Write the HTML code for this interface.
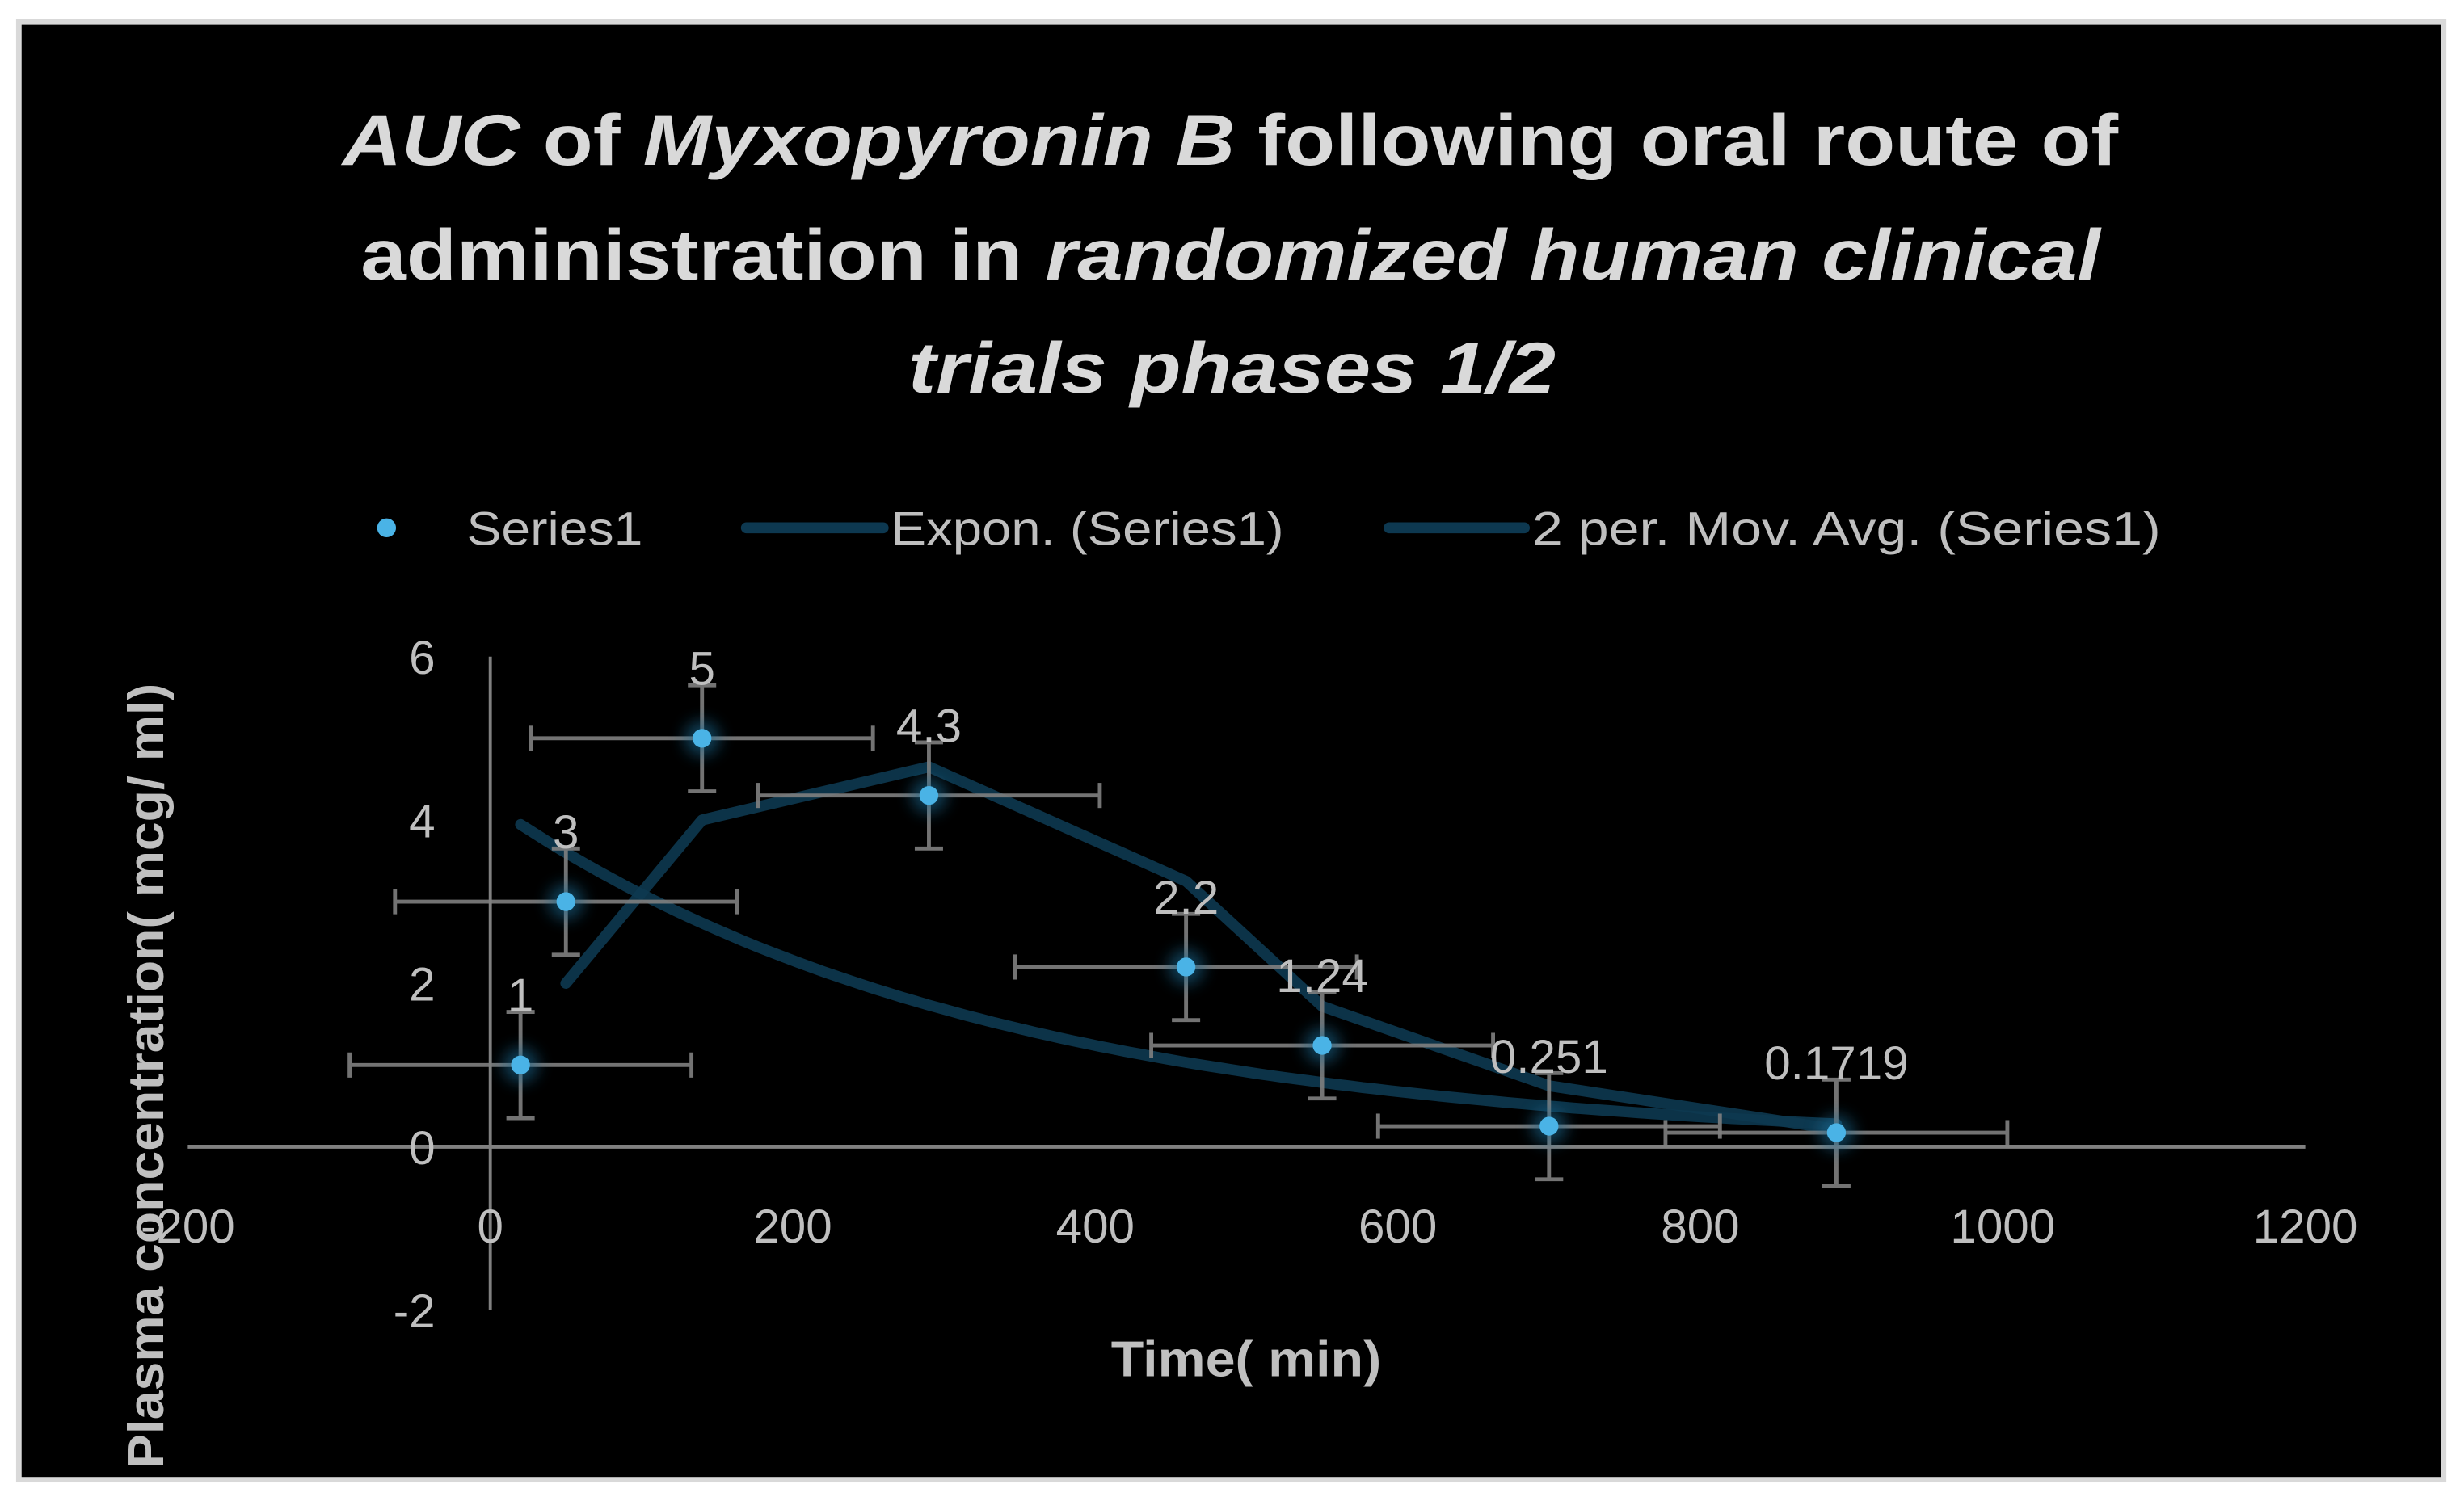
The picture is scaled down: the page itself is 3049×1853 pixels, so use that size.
<!DOCTYPE html>
<html><head><meta charset="utf-8"><style>
html,body{margin:0;padding:0;background:#fff;}
svg{display:block;}
text{font-family:"Liberation Sans",sans-serif;}
</style></head><body>
<svg id="chart" width="3049" height="1853" viewBox="0 0 1568 953" preserveAspectRatio="none" xmlns="http://www.w3.org/2000/svg">
<defs>
<filter id="glow" x="-200%" y="-200%" width="500%" height="500%"><feGaussianBlur stdDeviation="5"/></filter>
</defs>
<rect x="12" y="14" width="1543" height="928" fill="#000" stroke="#d9d9d9" stroke-width="3.5"/>
<g fill="#d9d9d9" font-weight="bold" font-size="46" text-anchor="middle">
<text x="783" y="105" textLength="1130" lengthAdjust="spacingAndGlyphs"><tspan font-style="italic">AUC</tspan> of <tspan font-style="italic">Myxopyronin B</tspan> following oral route of</text>
<text x="783" y="178" textLength="1107" lengthAdjust="spacingAndGlyphs">administration in <tspan font-style="italic">randomized human clinical</tspan></text>
<text x="784" y="250" textLength="412" lengthAdjust="spacingAndGlyphs" font-style="italic">trials phases 1/2</text>
</g>
<g font-size="30" fill="#bfbfbf">
<g><circle cx="246" cy="336" r="6" fill="#4ab3e6"/><text x="297" y="347" textLength="112" lengthAdjust="spacingAndGlyphs">Series1</text></g>
<g><line x1="475" y1="336" x2="562" y2="336" stroke="#0d3850" stroke-width="7" stroke-linecap="round"/><text x="567" y="347" textLength="250" lengthAdjust="spacingAndGlyphs">Expon. (Series1)</text></g>
<g><line x1="884" y1="336" x2="970" y2="336" stroke="#0d3850" stroke-width="7" stroke-linecap="round"/><text x="975" y="347" textLength="400" lengthAdjust="spacingAndGlyphs">2 per. Mov. Avg. (Series1)</text></g>
</g>
<g id="axes"></g>
<g id="trend"></g>
<g id="errs"></g>
<g id="pts"></g>
<g id="lbls" font-size="30" fill="#bfbfbf" text-anchor="middle"></g>
<text x="793" y="876" font-size="32" font-weight="bold" fill="#bfbfbf" text-anchor="middle" textLength="172" lengthAdjust="spacingAndGlyphs">Time( min)</text>
<text transform="translate(104,685) rotate(-90)" font-size="32" font-weight="bold" fill="#bfbfbf" text-anchor="middle" textLength="500" lengthAdjust="spacingAndGlyphs">Plasma concentration( mcg/ ml)</text>
</svg>
<script>
const xs = [20, 50, 140, 290, 460, 550, 700, 890];
const ys = [1, 3, 5, 4.3, 2.2, 1.24, 0.251, 0.1719];
const labels = ["1", "3", "5", "4.3", "2.2", "1.24", "0.251", "0.1719"];
const yErr = [0.65, 0.65, 0.65, 0.65, 0.65, 0.65, 0.65, 0.65];
const xErr = [113, 113, 113, 113, 113, 113, 113, 113];
const xTicks = [-200, 0, 200, 400, 600, 800, 1000, 1200];
const xTickLabels = ["-200", "0", "200", "400", "600", "800", "1000", "1200"];
const yTicks = [-2, 0, 2, 4, 6];
const yTickLabels = ["-2", "0", "2", "4", "6"];

const NS = "http://www.w3.org/2000/svg";
function X(v){ return 312 + (v - 0) * (1155 / 1200); }
function Y(v){ return 730 - v * 52; }
function mk(parent, tag, attrs){ const e = document.createElementNS(NS, tag); for (const k in attrs) e.setAttribute(k, attrs[k]); parent.appendChild(e); return e; }

const axes = document.getElementById('axes');
let l = mk(axes, 'line', {x1: X(-200), x2: X(1200), y1: Y(0), y2: Y(0), stroke: '#808080', 'stroke-width': 2.5});


l = mk(axes, 'line', {x1: X(0), x2: X(0), y1: Y(6), y2: Y(-2), stroke: '#808080', 'stroke-width': 2});


xTicks.forEach((t, i) => {
  const e = mk(axes, 'text', {x: X(t), y: 791, 'font-size': 30, fill: '#bfbfbf', 'text-anchor': 'middle'});
  e.textContent = xTickLabels[i];
  
  
});
yTicks.forEach((t, i) => {
  const e = mk(axes, 'text', {x: 277, y: Y(t) + 11, 'font-size': 30, fill: '#bfbfbf', 'text-anchor': 'end'});
  e.textContent = yTickLabels[i];
  
  
});

// exponential trendline (least squares on ln y)
const n = xs.length;
let sx = 0, sl = 0, sxx = 0, sxl = 0;
for (let i = 0; i < n; i++){ const lv = Math.log(ys[i]); sx += xs[i]; sl += lv; sxx += xs[i]*xs[i]; sxl += xs[i]*lv; }
const b = (n*sxl - sx*sl) / (n*sxx - sx*sx);
const a = Math.exp((sl - b*sx) / n);
const trend = document.getElementById('trend');
let d = '';
for (let k = 0; k <= 100; k++){ const xv = xs[0] + (xs[n-1] - xs[0]) * k / 100; d += (k ? 'L' : 'M') + X(xv).toFixed(1) + ',' + Y(a*Math.exp(b*xv)).toFixed(1); }
let p = mk(trend, 'path', {d: d, fill: 'none', stroke: '#0d3850', 'stroke-width': 7, 'stroke-linecap': 'round', opacity: 0.9});


d = '';
for (let i = 1; i < n; i++){ const m = (ys[i] + ys[i-1]) / 2; d += (i > 1 ? 'L' : 'M') + X(xs[i]).toFixed(1) + ',' + Y(m).toFixed(1); }
p = mk(trend, 'path', {d: d, fill: 'none', stroke: '#0d3850', 'stroke-width': 7, 'stroke-linecap': 'round', 'stroke-linejoin': 'round', opacity: 0.9});



const errs = document.getElementById('errs');
const pts = document.getElementById('pts');
const lbls = document.getElementById('lbls');
for (let i = 0; i < n; i++){
  const cx = X(xs[i]), cy = Y(ys[i]);
  const g = mk(errs, 'g', {stroke: '#808080', 'stroke-width': 2.5, opacity: 0.9});
  
  
  const x1 = X(xs[i] - xErr[i]), x2 = X(xs[i] + xErr[i]), y1 = Y(ys[i] + yErr[i]), y2 = Y(ys[i] - yErr[i]);
  mk(g, 'line', {x1: x1, x2: x2, y1: cy, y2: cy});
  mk(g, 'line', {x1: x1, x2: x1, y1: cy - 8, y2: cy + 8});
  mk(g, 'line', {x1: x2, x2: x2, y1: cy - 8, y2: cy + 8});
  mk(g, 'line', {x1: cx, x2: cx, y1: y1, y2: y2});
  mk(g, 'line', {x1: cx - 9, x2: cx + 9, y1: y1, y2: y1});
  mk(g, 'line', {x1: cx - 9, x2: cx + 9, y1: y2, y2: y2});
  mk(pts, 'circle', {cx: cx, cy: cy, r: 11, fill: '#1f6f9a', opacity: 0.6, filter: 'url(#glow)'});
  const c = mk(pts, 'circle', {cx: cx, cy: cy, r: 6, fill: '#4ab3e6'});
  
  
  const t = mk(lbls, 'text', {x: cx, y: cy - 34});
  t.textContent = labels[i];
  
  
}
</script>
</body></html>
